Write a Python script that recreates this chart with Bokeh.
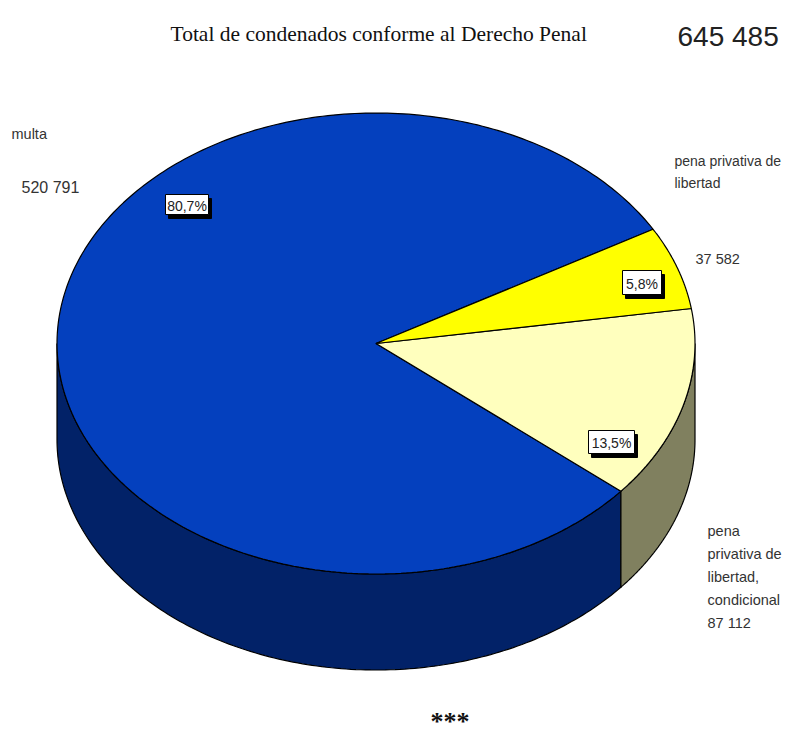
import numpy as np
from bokeh.embed import file_html
from bokeh.models import Range1d
from bokeh.plotting import figure
from bokeh.resources import INLINE
from bokeh.core.properties import value

# Sentencing totals shown as a tilted pie; slices run counter-clockwise
categories = ["multa", "pena privativa de libertad, condicional", "pena privativa de libertad"]
counts = [520791, 87112, 37582]
percent_labels = ["80,7%", "13,5%", "5,8%"]
top_colors = ["#0440BE", "#FFFFBE", "#FFFF00"]
wall_colors = ["#022268", "#80805F", "#80805F"]
total_text = "645 485"
title_text = "Total de condenados conforme al Derecho Penal"
footer_text = "***"

W, H = 785, 738
CX, CY, RX, RY, DEPTH = 375.5, 343, 319, 230.5, 96
START_DEG = 29.7   # where the first slice begins, counter-clockwise from east

SANS = "Liberation Sans"
SERIF = "Liberation Serif"

p = figure(width=W, height=H, output_backend="svg", toolbar_location=None,
           x_range=Range1d(0, W), y_range=Range1d(H, 0),
           min_border=0, outline_line_color=None, background_fill_color="white",
           border_fill_color="white")
p.xaxis.visible = False
p.yaxis.visible = False
p.grid.visible = False


def rim(t):
    return CX + RX * np.cos(t), CY - RY * np.sin(t)


# slice boundaries, in radians, derived from the counts
fractions = np.array(counts) / sum(counts)
edges = np.radians(START_DEG) + 2 * np.pi * np.concatenate([[0], np.cumsum(fractions)])

# side wall: only the front half of the rim (pi..2pi) is visible
for i in range(3):
    for k in (-1, 0, 1):
        lo = max(edges[i] + 2 * np.pi * k, np.pi)
        hi = min(edges[i + 1] + 2 * np.pi * k, 2 * np.pi)
        if hi <= lo:
            continue
        t = np.linspace(lo, hi, 160)
        x, y = rim(t)
        p.patch(np.r_[x, x[::-1]], np.r_[y, y[::-1] + DEPTH],
                fill_color=wall_colors[i], line_color="black", line_width=1.2)

# top face of the pie
for i in range(3):
    t = np.linspace(edges[i], edges[i + 1], 300)
    x, y = rim(t)
    p.patch(np.r_[CX, x], np.r_[CY, y], fill_color=top_colors[i],
            line_color="black", line_width=1.2)

# percentage tags with a hard drop shadow
tag_boxes = [(165, 208, 194, 214), (588, 634, 430, 453), (622, 661, 270, 294)]
tag_left = [b[0] for b in tag_boxes]
tag_right = [b[1] for b in tag_boxes]
tag_top = [b[2] for b in tag_boxes]
tag_bottom = [b[3] for b in tag_boxes]
p.quad(left=[v + 3 for v in tag_left], right=[v + 3 for v in tag_right],
       top=[v + 4 for v in tag_top], bottom=[v + 4 for v in tag_bottom],
       fill_color="black", line_color="black")
p.quad(left=tag_left, right=tag_right, top=tag_top, bottom=tag_bottom,
       fill_color="white", line_color="black", line_width=1)
p.text(x=[(l + r) / 2 for l, r in zip(tag_left, tag_right)],
       y=[(t + b) / 2 + 1 for t, b in zip(tag_top, tag_bottom)],
       text=percent_labels, text_align="center", text_baseline="middle",
       text_font=value(SANS), text_font_size="14px", text_color="#222222")


def label(x, y, s, size, font=SANS, color="#333333", style="normal", baseline="alphabetic"):
    p.text(x=[x], y=[y], text=[s], text_font=value(font), text_font_size=f"{size}px",
           text_color=color, text_align="left", text_baseline=baseline,
           text_font_style=style)


def spaced(n):
    return f"{n:,}".replace(",", " ")


label(170, 33, title_text, 21.5, SERIF, "#111111")
label(677, 36, total_text, 28, SANS, "#222222")
label(11, 133, "multa", 14.5)
label(21, 187, spaced(counts[0]), 16)
label(674, 160, "pena privativa de", 14)
label(674, 182, "libertad", 14)
label(695, 258, spaced(counts[2]), 14.5)
label(707, 530, "pena", 14.5)
label(707, 553, "privativa de", 14.5)
label(707, 576, "libertad,", 14.5)
label(707, 599, "condicional", 14.5)
label(707, 622, spaced(counts[1]), 14.5)
label(430, 721, footer_text, 26, SERIF, "#111111", "bold", "middle")

open("out.html", "w").write(file_html(p, INLINE))
